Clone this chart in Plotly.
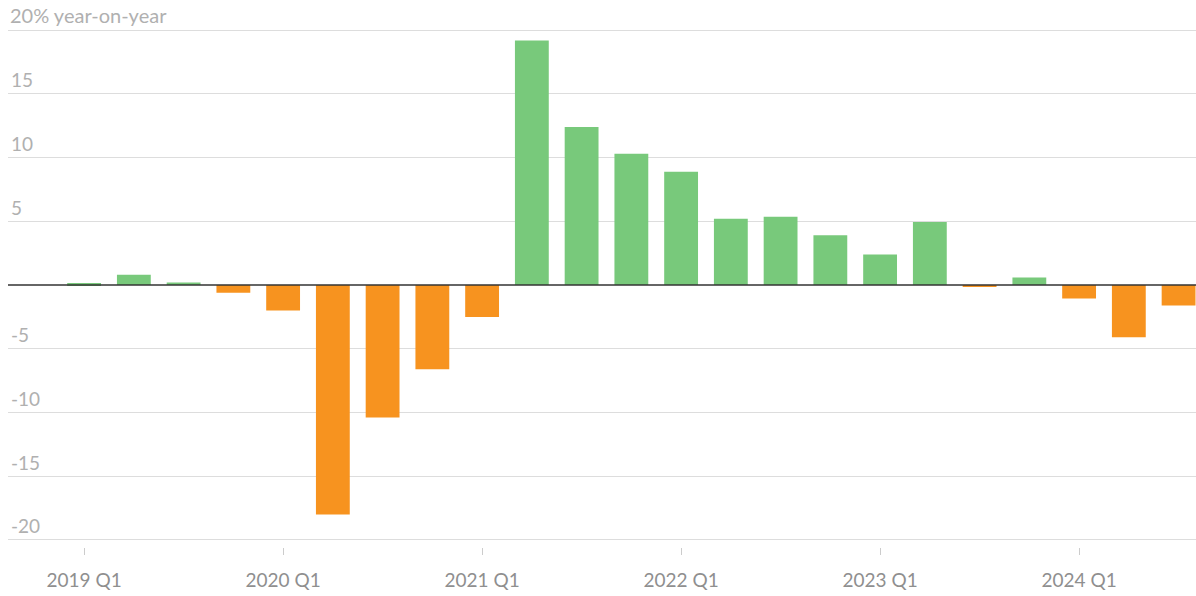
import plotly.graph_objects as go

# Quarterly year-on-year change, %
quarters = [
    "2019 Q1", "2019 Q2", "2019 Q3", "2019 Q4",
    "2020 Q1", "2020 Q2", "2020 Q3", "2020 Q4",
    "2021 Q1", "2021 Q2", "2021 Q3", "2021 Q4",
    "2022 Q1", "2022 Q2", "2022 Q3", "2022 Q4",
    "2023 Q1", "2023 Q2", "2023 Q3", "2023 Q4",
    "2024 Q1", "2024 Q2", "2024 Q3",
]
yoy_change = [
    0.15, 0.8, 0.2, -0.6,
    -2.0, -18.0, -10.4, -6.6,
    -2.5, 19.2, 12.4, 10.3,
    8.9, 5.2, 5.35, 3.9,
    2.4, 4.95, -0.15, 0.6,
    -1.05, -4.1, -1.6,
]
x_ticks = ["2019 Q1", "2020 Q1", "2021 Q1", "2022 Q1", "2023 Q1", "2024 Q1"]
y_ticks = [-20, -15, -10, -5, 5, 10, 15, 20]
y_tick_text = ["-20", "-15", "-10", "-5", "5", "10", "15", ""]
y_unit_label = "20% year-on-year"

GREEN = "#78c97b"
ORANGE = "#f7931f"
bar_colors = [GREEN if v >= 0 else ORANGE for v in yoy_change]

fig = go.Figure(
    go.Bar(
        x=quarters,
        y=yoy_change,
        marker=dict(color=bar_colors, line=dict(width=0)),
        width=0.68,
        hoverinfo="x+y",
    )
)

# Baseline at zero, drawn over the bars
fig.add_shape(
    type="line", xref="paper", yref="y", x0=0, x1=1, y0=0, y1=0,
    line=dict(color="#333333", width=1.5), layer="above",
)

# Top gridline label carries the unit
fig.add_annotation(
    xref="paper", yref="y", x=0, y=y_ticks[-1],
    xanchor="left", yanchor="bottom", yshift=1,
    text=y_unit_label, showarrow=False,
    font=dict(size=20, color="#b0b0b0"),
)

fig.update_layout(
    width=1196,
    height=596,
    margin=dict(l=8, r=0, t=0, b=49),
    paper_bgcolor="white",
    plot_bgcolor="white",
    showlegend=False,
    bargap=0.32,
    font=dict(family="Lato, 'Open Sans', sans-serif", size=17, color="#9a9a9a"),
    xaxis=dict(
        type="category",
        categoryorder="array",
        categoryarray=quarters,
        range=[-1.53, 22.35],
        tickmode="array",
        tickvals=x_ticks,
        ticktext=x_ticks,
        ticks="outside",
        ticklen=7,
        tickcolor="#cccccc",
        tickwidth=1,
        ticklabelstandoff=9,
        showgrid=False,
        showline=False,
        zeroline=False,
        tickfont=dict(size=19, color="#8f8f8f"),
    ),
    yaxis=dict(
        range=[-20.56, 22.37],
        tickmode="array",
        tickvals=y_ticks,
        ticktext=y_tick_text,
        ticklabelposition="inside top",
        ticks="",
        showgrid=True,
        gridcolor="#dddddd",
        gridwidth=1,
        zeroline=False,
        showline=False,
        tickfont=dict(size=19, color="#b0b0b0"),
    ),
)

fig.write_html("out.html")
